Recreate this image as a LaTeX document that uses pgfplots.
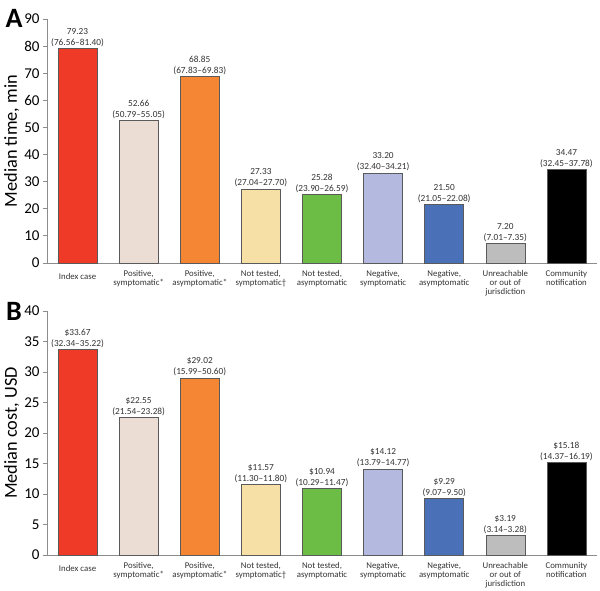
\documentclass[border=0pt]{standalone}
\usepackage{fontspec}
\setmainfont{Carlito}
\usepackage{pgfplots}
\pgfplotsset{compat=1.18}
\definecolor{cRed}{HTML}{EE3A26}
\definecolor{cBeige}{HTML}{EBDDD3}
\definecolor{cOrange}{HTML}{F58634}
\definecolor{cYellow}{HTML}{F6E0A6}
\definecolor{cGreen}{HTML}{6CBD45}
\definecolor{cLav}{HTML}{B3B9DF}
\definecolor{cBlue}{HTML}{4A70B7}
\definecolor{cGray}{HTML}{BDBDBD}
\definecolor{cEdge}{HTML}{5A5A5A}
\definecolor{axgray}{HTML}{8C8C8C}
\definecolor{txt}{HTML}{333333}
\pgfplotsset{
  panel/.style={
    scale only axis, width=550pt, height=244pt,
    xmin=-0.5, xmax=8.5, ymin=0,
    axis x line*=bottom, axis y line*=left,
    axis line style={draw=axgray, line width=0.8pt},
    xtick={0,...,8},
    xticklabels={{\mbox{}\\Index case},{Positive,\\symptomatic*},{Positive,\\asymptomatic*},{Not tested,\\symptomatic†},{Not tested,\\asymptomatic},{Negative,\\symptomatic},{Negative,\\asymptomatic},{Unreachable\\or out of\\jurisdiction},{Community\\notification}},
    x tick label style={font=\fontsize{8.8}{9.2}\selectfont, align=center, anchor=north, text=txt, yshift=0.5pt},
    x tick style={draw=none},
    y tick style={draw=axgray, line width=0.8pt},
    tick align=outside, major tick length=4pt,
    y tick label style={font=\fontsize{15}{17}\selectfont, text=black},
    /pgf/number format/assume math mode=true,
    ylabel style={font=\fontsize{18.3}{20}\selectfont, at={(axis description cs:-0.064,0.5)}, anchor=center},
    every node near coord/.append style={align=center, font=\fontsize{9.3}{11}\selectfont, text=txt, inner sep=1.5pt},
  },
  bb/.style={ybar, bar width=39pt, bar shift=0pt, draw=cEdge, line width=0.6pt, fill=#1},
}
\begin{document}
\begin{tikzpicture}
\useasboundingbox (0pt,0pt) rectangle (600pt,-590pt);
\node[font=\fontsize{28}{28}\selectfont\bfseries] at (14pt,-18pt) {A};
\node[font=\fontsize{28}{28}\selectfont\bfseries] at (14pt,-311pt) {B};
\begin{axis}[panel, at={(47pt,-263pt)}, anchor=south west, ymax=90, ytick={0,10,...,90}, ylabel={Median time, min}]
\addplot[bb=cRed, nodes near coords={79.23\\(76.56--81.40)}] coordinates {(0,79.23)};
\addplot[bb=cBeige, nodes near coords={52.66\\(50.79--55.05)}] coordinates {(1,52.66)};
\addplot[bb=cOrange, nodes near coords={68.85\\(67.83--69.83)}] coordinates {(2,68.85)};
\addplot[bb=cYellow, nodes near coords={27.33\\(27.04--27.70)}] coordinates {(3,27.33)};
\addplot[bb=cGreen, nodes near coords={25.28\\(23.90--26.59)}] coordinates {(4,25.28)};
\addplot[bb=cLav, nodes near coords={33.20\\(32.40--34.21)}] coordinates {(5,33.20)};
\addplot[bb=cBlue, nodes near coords={21.50\\(21.05--22.08)}] coordinates {(6,21.50)};
\addplot[bb=cGray, nodes near coords={7.20\\(7.01--7.35)}] coordinates {(7,7.20)};
\addplot[bb=black, nodes near coords={34.47\\(32.45--37.78)}] coordinates {(8,34.47)};
\end{axis}
\begin{axis}[panel, at={(47pt,-555pt)}, anchor=south west, ymax=40, ytick={0,5,...,40}, ylabel={Median cost, USD}]
\addplot[bb=cRed, nodes near coords={\$33.67\\(32.34--35.22)}] coordinates {(0,33.67)};
\addplot[bb=cBeige, nodes near coords={\$22.55\\(21.54--23.28)}] coordinates {(1,22.55)};
\addplot[bb=cOrange, nodes near coords={\$29.02\\(15.99--50.60)}] coordinates {(2,29.02)};
\addplot[bb=cYellow, nodes near coords={\$11.57\\(11.30--11.80)}] coordinates {(3,11.57)};
\addplot[bb=cGreen, nodes near coords={\$10.94\\(10.29--11.47)}] coordinates {(4,10.94)};
\addplot[bb=cLav, nodes near coords={\$14.12\\(13.79--14.77)}] coordinates {(5,14.12)};
\addplot[bb=cBlue, nodes near coords={\$9.29\\(9.07--9.50)}] coordinates {(6,9.29)};
\addplot[bb=cGray, nodes near coords={\$3.19\\(3.14--3.28)}] coordinates {(7,3.19)};
\addplot[bb=black, nodes near coords={\$15.18\\(14.37--16.19)}] coordinates {(8,15.18)};
\end{axis}
\end{tikzpicture}
\end{document}
